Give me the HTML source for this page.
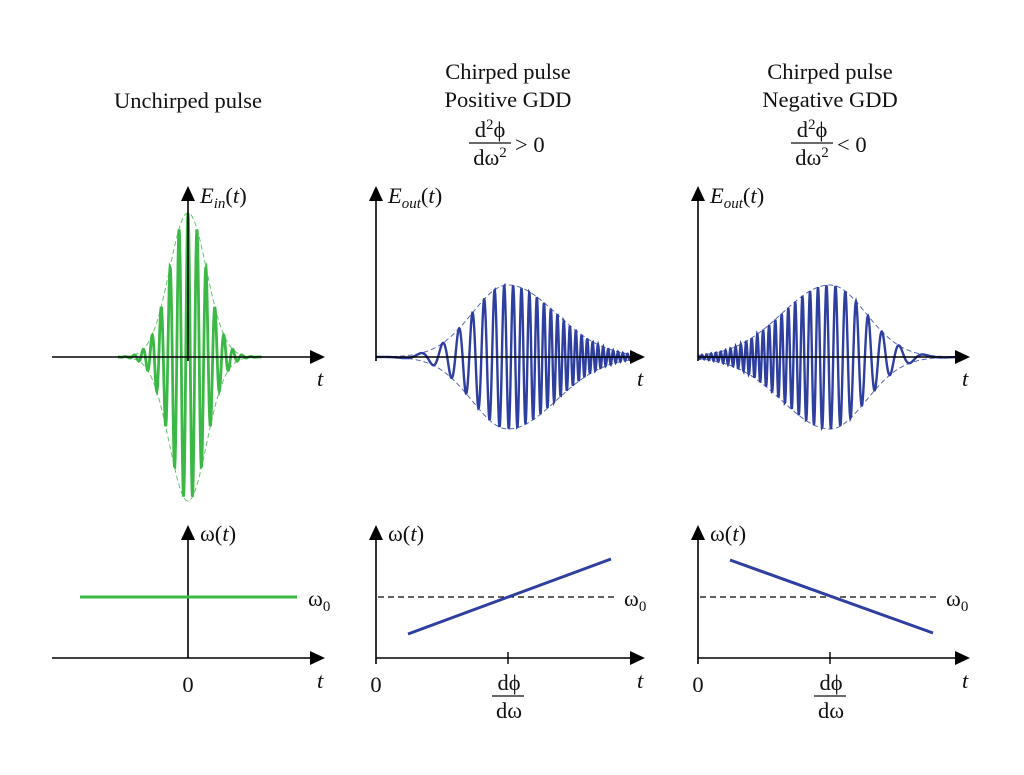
<!DOCTYPE html>
<html><head><meta charset="utf-8"><style>
html,body{margin:0;padding:0;background:#fff;width:1024px;height:775px;overflow:hidden}
svg text{font-family:"Liberation Serif",serif;fill:#111}
</style></head><body>
<svg id="fig" width="1024" height="775" viewBox="0 0 1024 775" xmlns="http://www.w3.org/2000/svg">
<g font-size="22.5">
<text x="188" y="108" text-anchor="middle">Unchirped pulse</text>
<text x="508" y="79" text-anchor="middle">Chirped pulse</text>
<text x="508" y="107" text-anchor="middle">Positive GDD</text>
<text x="830" y="79" text-anchor="middle">Chirped pulse</text>
<text x="830" y="107" text-anchor="middle">Negative GDD</text>
<g>
<text x="490" y="137" text-anchor="middle">d<tspan font-size="15" dy="-8">2</tspan><tspan dy="8">ϕ</tspan></text>
<line x1="469" y1="143" x2="511" y2="143" stroke="#111" stroke-width="1.3"/>
<text x="490" y="165" text-anchor="middle">dω<tspan font-size="15" dy="-8">2</tspan></text>
<text x="515" y="152">&gt; 0</text></g>
<g>
<text x="812" y="137" text-anchor="middle">d<tspan font-size="15" dy="-8">2</tspan><tspan dy="8">ϕ</tspan></text>
<line x1="791" y1="143" x2="833" y2="143" stroke="#111" stroke-width="1.3"/>
<text x="812" y="165" text-anchor="middle">dω<tspan font-size="15" dy="-8">2</tspan></text>
<text x="837" y="152">&lt; 0</text></g>
</g>
<g id="plots"></g>
</svg>
<script>
// data
const panelCenters = [188, 508, 830];
const pulseAmp = [144, 72, 72];
const pulseSigma = [18.5, 40, 40];
const chirpSign = [0, 1, -1];
const freqStart = [80, 408, 730];
const freqEnd = [297, 611, 933];
const freqStartVal = [0, -37, 37];
const freqEndVal = [0, 38, -36];
const NS='http://www.w3.org/2000/svg';
const g=document.getElementById('plots');
function el(t,a,p){const e=document.createElementNS(NS,t);for(const k in a)e.setAttribute(k,a[k]);(p||g).appendChild(e);return e;}
function axis(x1,y1,x2,y2,name){
  const horiz = y1===y2;
  const l=el('line',{x1,y1,x2:horiz?x2-12:x2,y2:horiz?y2:y2+12,stroke:'#000','stroke-width':1.6});
  
  
  const pts = horiz ? `${x2},${y2} ${x2-15},${y2-7} ${x2-15},${y2+7}` : `${x2},${y2} ${x2-7},${y2+15} ${x2+7},${y2+15}`;
  const a=el('polygon',{points:pts,fill:'#000'});
  
  
}
function txt(x,y,s,name,opt){const t=el('text',Object.assign({x,y,'font-size':22.5},opt||{}));t.innerHTML=s;

return t;}
const base=357, yAxisX=[188,376,698], xEnd=[325,645,970];
const colors=['#3cb846','#2e3fa0','#2e3fa0'];
for(let p=0;p<3;p++){
  const c=panelCenters[p], A=pulseAmp[p], s=pulseSigma[p], col=colors[p];
  let up='',dn='',wave='';
  const x0 = p==0? 118 : yAxisX[p], x1 = p==0? 262 : xEnd[p]-8;
  let ph=0;
  for(let x=x0;x<=x1;x+=0.4){
    const d=x-c;
    const sig = p==0? s : (chirpSign[p]*d<0? 36:48);
    const env=A*Math.exp(-d*d/(2*sig*sig));
    const w = 0.70 + chirpSign[p]*0.0055*d;
    ph += Math.max(w,0.12)*0.4;
    const phase = p==0? 0.70*d : ph;
    up+=(up?'L':'M')+x.toFixed(1)+','+(base-env).toFixed(1);
    dn+=(dn?'L':'M')+x.toFixed(1)+','+(base+env).toFixed(1);
    wave+=(wave?'L':'M')+x.toFixed(1)+','+(base-env*Math.cos(phase)).toFixed(1);
  }
  const e1=el('path',{d:up,fill:'none',stroke:col,'stroke-width':1,'stroke-dasharray':'5,3',opacity:0.8});
  
  
  const e2=el('path',{d:dn,fill:'none',stroke:col,'stroke-width':1,'stroke-dasharray':'5,3',opacity:0.8});
  
  
  const w=el('path',{d:wave,fill:'none',stroke:col,'stroke-width':p==0?2.8:2.4});
  
  
  axis(p==0?52:yAxisX[p],base,xEnd[p],base,'time-axis');
  axis(yAxisX[p],base+4,yAxisX[p],186,'field-axis');
  txt(xEnd[p]-8,386,'t','t-label',{'font-style':'italic'});
  const bb=658, w0y=597;
  axis(p==0?52:yAxisX[p],bb,xEnd[p],bb,'freq-time-axis');
  axis(yAxisX[p],bb+(p==0?0:6),yAxisX[p],525,'freq-axis');
  txt(xEnd[p]-8,688,'t','t-label-bottom',{'font-style':'italic'});
  if(p>0){const dl=el('line',{x1:yAxisX[p]+2,y1:w0y,x2:freqEnd[p]+6,y2:w0y,stroke:'#000','stroke-width':1.2,'stroke-dasharray':'6,4'});
    
    
    el('line',{x1:c,y1:bb-6,x2:c,y2:bb+6,stroke:'#000','stroke-width':1.4});
    txt(yAxisX[p],692,'0','zero-label',{'text-anchor':'middle'});
    txt(c+1,690,'dϕ','dphi-label',{'text-anchor':'middle'});
    el('line',{x1:c-16,y1:696,x2:c+16,y2:696,stroke:'#111','stroke-width':1.3});
    txt(c+1,718,'dω','domega-label',{'text-anchor':'middle'});
  } else {
    txt(188,692,'0','zero-label',{'text-anchor':'middle'});
  }
  const fl=el('line',{x1:freqStart[p],y1:w0y-freqStartVal[p],x2:freqEnd[p],y2:w0y-freqEndVal[p],stroke:col,'stroke-width':3});
  
  
  txt(p==0?308:freqEnd[p]+13,606,'ω<tspan font-size="15" dy="5">0</tspan>','omega0-label');
  txt(yAxisX[p]+12,541,'ω(<tspan font-style="italic">t</tspan>)','omega-t-label');
  txt(yAxisX[p]+12,203, p==0?'<tspan font-style="italic">E<tspan font-size="15" dy="5">in</tspan></tspan><tspan dy="-5">(</tspan><tspan font-style="italic">t</tspan>)':'<tspan font-style="italic">E<tspan font-size="15" dy="5">out</tspan></tspan><tspan dy="-5">(</tspan><tspan font-style="italic">t</tspan>)','field-label');
}
</script>
</body></html>
